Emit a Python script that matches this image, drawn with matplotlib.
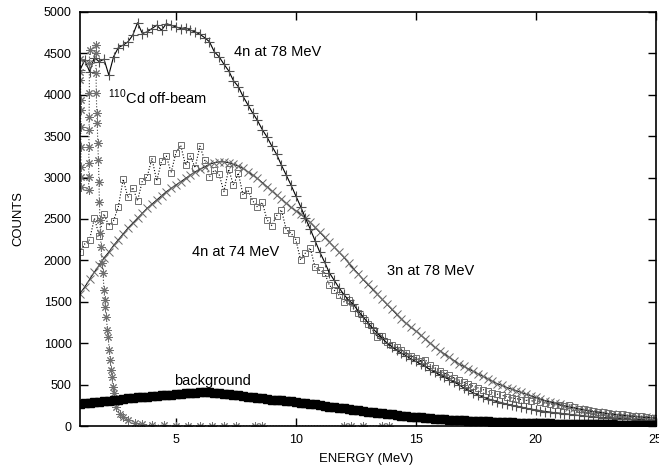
import matplotlib
matplotlib.use("Agg")
import numpy as np
import matplotlib.pyplot as plt

plt.rcParams['font.family'] = 'Liberation Sans'
plt.rcParams['mathtext.fontset'] = 'custom'
plt.rcParams['mathtext.rm'] = 'Liberation Sans'

# channel energies (MeV), 0.2 MeV bins from 1 to 25
energy = np.round(1.0 + 0.2 * np.arange(121), 1)

# 4n at 78 MeV  (+)
counts_4n78 = [
    4300, 4420, 4280, 4450, 4400, 4430, 4240, 4460, 4570, 4600,
    4640, 4720, 4870, 4740, 4760, 4800, 4840, 4780, 4860, 4840,
    4820, 4800, 4810, 4780, 4760, 4730, 4690, 4640, 4520, 4460,
    4370, 4290, 4170, 4100, 3980, 3880, 3780, 3690, 3580, 3490,
    3380, 3280, 3150, 3030, 2910, 2780, 2650, 2510, 2380, 2240,
    2100, 1980, 1850, 1760, 1670, 1590, 1520, 1470, 1390, 1320,
    1250, 1180, 1120, 1060, 1000, 960, 920, 880, 850, 810,
    780, 750, 720, 680, 650, 620, 590, 560, 530, 500,
    460, 430, 400, 375, 350, 330, 310, 295, 280, 265,
    250, 240, 230, 215, 205, 195, 185, 175, 168, 160,
    155, 148, 142, 135, 128, 122, 116, 110, 105, 100,
    96, 92, 88, 85, 82, 79, 76, 73, 70, 68,
    66]

# 3n at 78 MeV  (x)
counts_3n78 = [
    1600, 1680, 1770, 1860, 1940, 2030, 2100, 2180, 2250, 2320,
    2390, 2450, 2510, 2570, 2630, 2680, 2730, 2780, 2830, 2870,
    2910, 2950, 2990, 3030, 3070, 3100, 3130, 3160, 3180, 3190,
    3190, 3180, 3160, 3140, 3110, 3070, 3030, 2990, 2940, 2890,
    2840, 2790, 2740, 2690, 2640, 2600, 2560, 2510, 2460, 2400,
    2340, 2280, 2220, 2160, 2100, 2040, 1970, 1900, 1840, 1770,
    1710, 1650, 1590, 1530, 1470, 1410, 1350, 1290, 1240, 1190,
    1150, 1100, 1050, 1000, 950, 910, 870, 830, 790, 750,
    720, 690, 660, 630, 600, 570, 540, 510, 490, 465,
    445, 425, 405, 385, 365, 345, 325, 305, 290, 275,
    260, 245, 230, 218, 206, 195, 185, 175, 166, 158,
    150, 143, 136, 130, 124, 118, 113, 108, 104, 100,
    96]

# 4n at 74 MeV  (open squares)
counts_4n74 = [
    2100, 2200, 2250, 2510, 2300, 2560, 2420, 2480, 2650, 2980,
    2760, 2880, 2720, 2960, 3010, 3230, 2960, 3200, 3260, 3060,
    3300, 3390, 3150, 3260, 3120, 3380, 3210, 3010, 3090, 3040,
    2830, 3100, 2910, 3055, 2790, 2850, 2720, 2645, 2700, 2490,
    2420, 2540, 2610, 2370, 2330, 2250, 2005, 2090, 2150, 1920,
    1880, 1850, 1700, 1640, 1580, 1500, 1520, 1420, 1365, 1300,
    1230, 1160, 1075, 1090, 1020, 980, 954, 920, 880, 850,
    820, 790, 797, 740, 700, 670, 640, 610, 580, 556,
    530, 505, 480, 460, 440, 420, 400, 385, 370, 355,
    340, 330, 320, 310, 300, 314, 290, 280, 265, 255,
    250, 240, 254, 225, 210, 200, 193, 185, 175, 165,
    160, 150, 145, 140, 130, 125, 120, 115, 108, 102,
    98]

# background (filled squares)
counts_bg = [
    270, 275, 280, 290, 295, 300, 305, 315, 320, 330,
    335, 340, 345, 350, 355, 360, 365, 370, 375, 380,
    385, 390, 395, 400, 400, 405, 410, 405, 400, 395,
    390, 385, 380, 375, 365, 355, 350, 340, 335, 325,
    320, 315, 310, 305, 300, 290, 280, 275, 270, 265,
    255, 245, 235, 228, 220, 212, 205, 198, 190, 182,
    175, 168, 160, 153, 146, 140, 133, 126, 120, 114,
    108, 103, 98, 94, 90, 86, 82, 78, 75, 72,
    69, 66, 63, 60, 57, 55, 52, 50, 48, 46,
    44, 42, 40, 38, 37, 35, 34, 32, 31, 30,
    29, 28, 27, 26, 25, 24, 23, 22, 21, 20,
    20, 19, 18, 18, 17, 17, 16, 16, 15, 15,
    15]

# 110Cd off-beam (asterisks)
cd_energy = [1.02, 1.02, 1.02, 1.03, 1.03, 1.03, 1.04, 1.04, 1.05, 1.05,
             1.36, 1.36, 1.37, 1.37, 1.38, 1.38, 1.39, 1.39, 1.40,
             1.65, 1.66, 1.67, 1.68, 1.70, 1.72, 1.74, 1.77, 1.79, 1.81, 1.83, 1.85,
             1.88, 1.92, 1.96, 2.00, 2.03, 2.06, 2.10, 2.14, 2.17, 2.22,
             2.26, 2.30, 2.33, 2.37, 2.40, 2.50, 2.65, 2.80, 3.00, 3.30,
             3.60, 4.00, 4.50, 5.00, 5.50, 6.00, 6.50, 7.00, 7.50, 8.30,
             8.60, 12.0, 12.3, 12.8, 13.6, 13.9]
cd_counts = [4430, 4270, 4180, 3940, 3820, 3610, 3370, 3130, 3010, 2890,
             2850, 3010, 3180, 3370, 3580, 3730, 4020, 4380, 4540,
             4600, 4500, 4260, 4020, 3780, 3660, 3420, 3210, 2950, 2700, 2490, 2330,
             2160, 1970, 1850, 1640, 1520, 1440, 1320, 1160, 1080, 920,
             800, 680, 590, 470, 400, 230, 150, 110, 70, 36,
             20, 12, 8, 5, 4, 3, 2, 1, 0, 0,
             0, 0, 0, 0, 0, 0]

labels = ["4n at 78 MeV", "$^{110}$Cd off-beam", "4n at 74 MeV",
          "3n at 78 MeV", "background"]

fig = plt.figure(figsize=(6.59, 4.70), dpi=100)
ax = fig.add_axes([0.1214, 0.0936, 0.8733, 0.8809])

ax.plot(energy, counts_4n74, ls=':', lw=0.8, color='black', marker='s', ms=5,
        mfc='none', mec='#707070', mew=0.7)
ax.plot(energy, counts_3n78, ls='-', lw=0.7, color='black', marker='x', ms=5.5,
        mec='#6a6a6a', mew=0.7)
ax.plot(energy, counts_4n78, ls='-', lw=0.8, color='black', marker='+', ms=6.5,
        mec='#505050', mew=0.8)
ax.plot(cd_energy, cd_counts, ls=':', lw=0.8, color='#444444', marker=(8, 2, 0),
        ms=6, mec='#707070', mew=0.7)
ax.plot(energy, counts_bg, ls='-', lw=1, color='black', marker='s', ms=6,
        mfc='black', mec='black')

ax.text(7.44, 4517, labels[0], fontsize=10.5, va='center')
ax.text(2.18, 3973, labels[1], fontsize=10.5, va='center')
ax.text(5.65, 2101, labels[2], fontsize=10.5, va='center')
ax.text(13.8, 1872, labels[3], fontsize=10.5, va='center')
ax.text(4.94, 543, labels[4], fontsize=10.5, va='center')

ax.set_xlim(1, 25)
ax.set_ylim(0, 5000)
ax.set_xticks([5, 10, 15, 20, 25])
ax.set_yticks(np.arange(0, 5001, 500))
ax.tick_params(direction='in', top=True, right=True, length=6, width=1,
               labelsize=9, pad=6)
for s in ax.spines.values():
    s.set_linewidth(1.2)

fig.text(18 / 659, 1 - 219 / 470, "COUNTS", rotation=90, ha='center',
         va='center', fontsize=9.4)
fig.text(366 / 659, 1 - 459 / 470, "ENERGY (MeV)", ha='center', va='center',
         fontsize=9.4)

fig.savefig("out.png", dpi=100)
